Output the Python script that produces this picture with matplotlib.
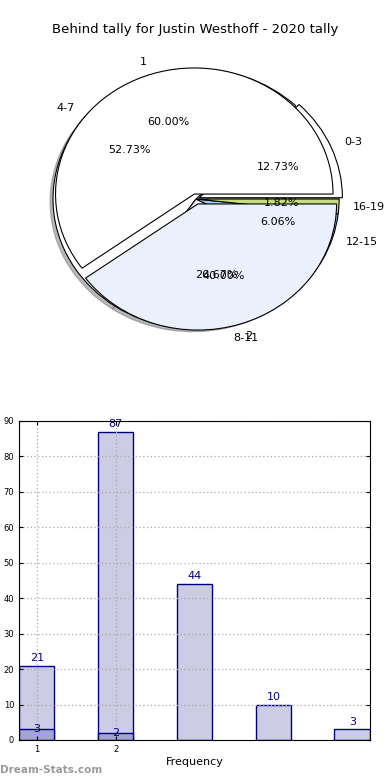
import matplotlib
matplotlib.use("Agg")
import matplotlib.pyplot as plt

title = "Behind tally for Justin Westhoff - 2020 tally"
outer_labels = ["0-3", "4-7", "8-11", "12-15", "16-19"]
outer_values = [21, 87, 44, 10, 3]
inner_labels = ["1", "2"]
inner_values = [3, 2]

outer_colors = ["#ffffff", "#ffffff", "#eaf0fc", "#a6c8f0", "#c6df7c"]
inner_colors = ["#ffffff", "#eaf0fc"]

fig = plt.figure(figsize=(3.9, 7.8), dpi=100)

# ---- Pie ----
axp = fig.add_axes([0.0442, 0.5365, 0.917, 0.4167])
wp = dict(edgecolor="black", linewidth=0.8)
axp.pie(outer_values, labels=outer_labels, colors=outer_colors,
        autopct="%.2f%%", pctdistance=0.6, labeldistance=1.1,
        explode=[0.025, 0, 0, 0, 0],
        shadow=dict(ox=-0.015, oy=-0.015, shade=0.55), wedgeprops=wp,
        textprops=dict(fontsize=8))
axp.pie(inner_values, labels=inner_labels, colors=inner_colors,
        autopct="%.2f%%", pctdistance=0.6, labeldistance=1.1,
        radius=0.97, explode=[0.04, 0.04],
        shadow=False, wedgeprops=wp, textprops=dict(fontsize=8))
axp.set_aspect("auto")
axp.set_xlim(-1.25, 1.25)
axp.set_ylim(-1.25, 1.25)
fig.text(0.5, 1 - 30 / 780, title, ha="center", va="center", fontsize=9.5)

# ---- Bars ----
axb = fig.add_axes([0.0487, 0.0513, 0.9, 0.409])
xpos = list(range(1, len(outer_values) + 1))
width = 0.45
navy = "#000080"
axb.bar(xpos, outer_values, width=width, color="#ccccE4",
        edgecolor=navy, linewidth=1, zorder=1)
axb.bar(xpos[:len(inner_values)], inner_values, width=width,
        color="#a4a4d2", edgecolor=navy, linewidth=1, zorder=1)
for x, v in zip(xpos, outer_values):
    axb.text(x, v + 0.8, str(v), ha="center", va="bottom", color=navy, fontsize=8)
for x, v in zip(xpos, inner_values):
    axb.text(x, v, str(v), ha="center", va="center", color=navy, fontsize=8)
axb.set_xlim(1 - width / 2, len(outer_values) + width / 2)
axb.set_ylim(0, 90)
axb.set_yticks(range(0, 91, 10))
axb.set_xticks([1, 2])
axb.set_xticklabels(inner_labels)
axb.tick_params(labelsize=6, direction="in", top=True, right=True, length=3)
axb.grid(True, linestyle=(0, (1, 2)), color="#aaaaaa", linewidth=0.9, zorder=2)
axb.set_axisbelow(False)
for s in axb.spines.values():
    s.set_zorder(5)
axb.set_xlabel("Frequency", fontsize=8, labelpad=2)

fig.text(0.0, 1 - 770 / 780, "Dream-Stats.com", ha="left", va="center",
         fontsize=7.5, color="#999999", fontweight="bold")

fig.savefig("out.png", dpi=100)
